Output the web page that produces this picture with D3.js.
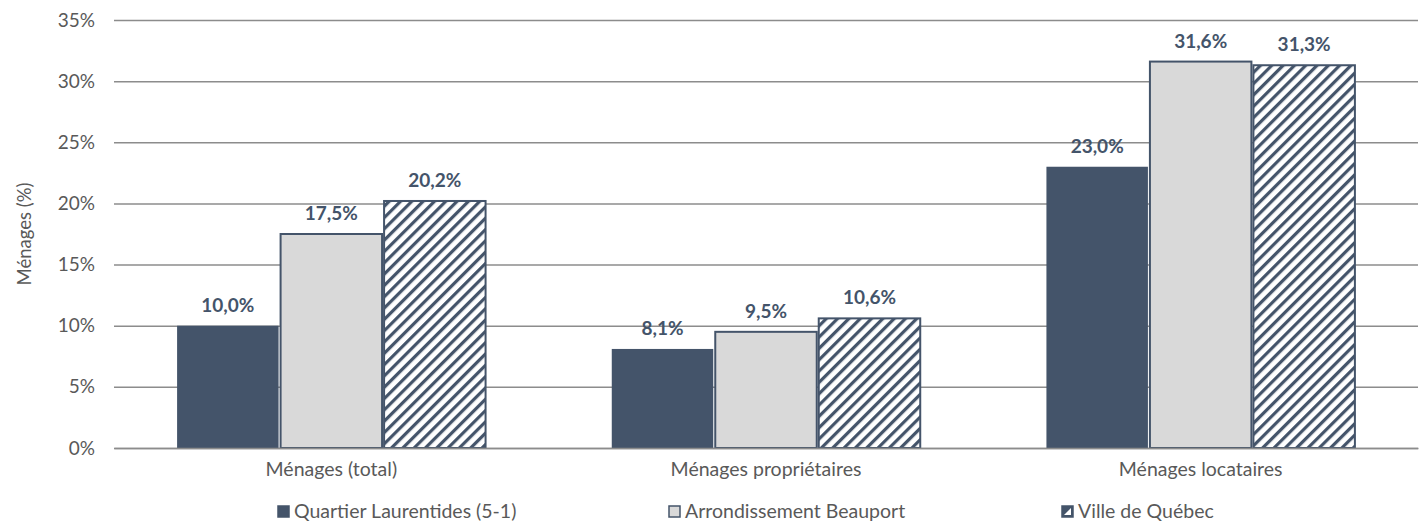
<!DOCTYPE html>
<html><head><meta charset="utf-8">
<script src="https://cdn.jsdelivr.net/npm/d3@7"></script>
<style>body{margin:0;background:#fff}svg{display:block}text{font-family:Lato,"Open Sans",sans-serif}</style>
</head><body><svg id="c" width="1426" height="523"></svg>
<script>
const categories = ["Ménages (total)", "Ménages propriétaires", "Ménages locataires"];
const seriesNames = ["Quartier Laurentides (5-1)", "Arrondissement Beauport", "Ville de Québec"];
const quartier = [10.0, 8.1, 23.0];
const beauport = [17.5, 9.5, 31.6];
const ville = [20.2, 10.6, 31.3];
const yTicks = [0, 5, 10, 15, 20, 25, 30, 35];

const values = [quartier, beauport, ville];
const svg = d3.select("#c");
const W = 1426, H = 523;
const m = {l: 114, r: 8, t: 20, b: 75};
const x = d3.scaleBand().domain(categories).range([m.l, W - m.r]).paddingInner(0).paddingOuter(0);
const x1 = d3.scaleBand().domain(seriesNames).range([0, x.bandwidth()]).paddingOuter(0.6).paddingInner(0);
const y = d3.scaleLinear().domain([0, 35]).range([H - m.b, m.t]);

const defs = svg.append("defs");
const pat = defs.append("pattern").attr("id", "hatch").attr("patternUnits", "userSpaceOnUse")
  .attr("width", 8).attr("height", 8).attr("patternTransform", "rotate(45)");
pat.append("rect").attr("width", 8).attr("height", 8).attr("fill", "#fff");
pat.append("rect").attr("x", 0).attr("width", 3.2).attr("height", 8).attr("fill", "#44546a");

const fills = ["#44546a", "#d9d9d9", "url(#hatch)"];
const strokes = ["none", "#44546a", "#44546a"];

// gridlines
const yAxis = d3.axisLeft(y).tickValues(yTicks).tickSize(-(W - m.l - m.r)).tickPadding(19).tickFormat(d => d + "%");
const ga = svg.append("g").attr("transform", `translate(${m.l},0)`).call(yAxis);
ga.select(".domain").remove();
ga.selectAll(".tick line").attr("stroke", "#8c8c8c").attr("stroke-width", 1.5);
ga.selectAll(".tick text").attr("fill", "#595959").attr("font-size", 19);

// bars
categories.forEach((c, ci) => {
  seriesNames.forEach((s, si) => {
    const v = values[si][ci];
    const bx = x(c) + x1(s), bw = x1.bandwidth();
    svg.append("rect").attr("x", bx + 1).attr("y", y(v)).attr("width", bw - 2).attr("height", y(0) - y(v))
      .attr("fill", fills[si]).attr("stroke", strokes[si]).attr("stroke-width", 2);
    svg.append("text").attr("x", bx + bw / 2).attr("y", y(v) - 14).attr("text-anchor", "middle")
      .attr("font-size", 19).attr("font-weight", "bold").attr("fill", "#44546a")
      .text(v.toFixed(1).replace(".", ",") + "%");
  });
});

// x axis labels
const gx = svg.append("g").attr("transform", `translate(0,${y(0)})`).call(d3.axisBottom(x).tickSize(0).tickPadding(14));
gx.select(".domain").attr("stroke", "#8c8c8c").attr("stroke-width", 1.5);
gx.selectAll(".tick text").attr("fill", "#595959").attr("font-size", 19.5);

// y title
svg.append("text").attr("transform", `translate(31,${(y(0) + y(35)) / 2}) rotate(-90)`).attr("text-anchor", "middle")
  .attr("fill", "#595959").attr("font-size", 18.5).text("Ménages (%)");

// legend
const legX = [277, 668, 1061];
seriesNames.forEach((s, i) => {
  const g = svg.append("g").attr("transform", `translate(${legX[i]},505)`);
  g.append("rect").attr("x", 1).attr("y", 1).attr("width", 11).attr("height", 11)
    .attr("fill", i === 2 ? "#44546a" : fills[i]).attr("stroke", "#44546a").attr("stroke-width", 1.5);
  if (i === 2) g.append("path").attr("d", "M3,10 L10,3 L10,10 Z").attr("fill", "#fff");
  g.append("text").attr("x", 17).attr("y", 13).attr("font-size", 19.5).attr("fill", "#595959").text(s);
});
</script></body></html>
